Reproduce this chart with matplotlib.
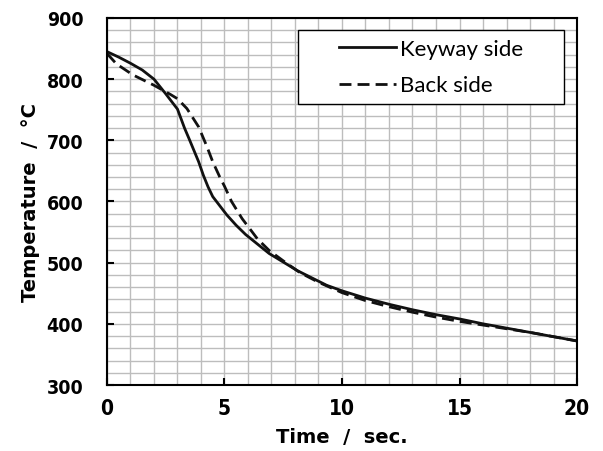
import numpy as np
import matplotlib.pyplot as plt
from matplotlib.ticker import MultipleLocator
from matplotlib.patches import Rectangle

# Keyway side (solid)
t_key = [0, 0.5, 1.0, 1.5, 2.0, 2.5, 3.0, 3.3, 3.5, 3.9, 4.1, 4.3, 4.5, 4.9, 5.1,
         5.5, 5.9, 6.9, 8.1, 9.35, 10, 11, 12, 13, 14, 15, 16, 17, 18, 19, 20]
T_key = [845, 836, 826, 815, 800, 776, 751, 720, 702, 665, 643, 624, 608, 588, 578,
         561, 546, 515, 487, 463, 454, 442, 432, 423, 415, 408, 400, 393, 386, 379, 372]

# Back side (dashed)
t_back = [0, 0.4, 1.1, 2.0, 2.7, 3.0, 3.4, 3.9, 4.25, 4.5, 4.8, 5.0, 5.3, 5.75, 6.4,
          6.9, 7.5, 8.2, 9, 10, 11, 12, 13, 14, 15, 16, 17, 18, 19, 20]
T_back = [842, 825, 807, 790, 775, 768, 752, 722, 690, 665, 640, 625, 600, 572, 539,
          520, 503, 484, 468, 451, 438, 428, 419, 411, 404, 398, 392, 386, 379, 372]

tick_font = {'family': 'DejaVu Sans', 'stretch': 'condensed', 'weight': 'bold'}

fig = plt.figure(figsize=(6.03, 4.52), dpi=100)
ax = fig.add_axes([0.1774, 0.146, 0.7795, 0.812])

ax.plot(t_key, T_key, color='#111111', lw=2.0, label='Keyway side')
ax.plot(t_back, T_back, color='#111111', lw=2.0, ls=(0, (4.3, 2.2)), label='Back side')

ax.set_xlim(0, 20)
ax.set_ylim(300, 900)
ax.xaxis.set_major_locator(MultipleLocator(5))
ax.xaxis.set_minor_locator(MultipleLocator(1))
ax.yaxis.set_major_locator(MultipleLocator(100))
ax.yaxis.set_minor_locator(MultipleLocator(20))
ax.grid(which='both', color='#bdbdbd', lw=1.0)
ax.set_axisbelow(True)
ax.tick_params(which='major', direction='in', length=5, width=1.5, color='black')
ax.tick_params(axis='x', pad=9)
ax.tick_params(axis='y', pad=17)
ax.tick_params(which='minor', length=0)
for lab in ax.get_xticklabels():
    lab.set_fontproperties(tick_font)
    lab.set_fontsize(15)
for lab in ax.get_yticklabels():
    lab.set_fontproperties(tick_font)
    lab.set_fontsize(14)
for s in ax.spines.values():
    s.set_linewidth(1.5)
    s.set_color('black')

ax.set_xlabel('Time  /  sec.', fontsize=14, fontweight='bold', labelpad=7)
ax.set_ylabel('Temperature  /  \u00b0C', fontsize=14, fontweight='bold', labelpad=5)

# legend frame, content centred inside it
box = Rectangle((0.406, 0.766), 0.566, 0.201, transform=ax.transAxes,
                facecolor='white', edgecolor='black', lw=1.0, zorder=4)
ax.add_patch(box)
leg = ax.legend(loc='center', bbox_to_anchor=(0.406 + 0.566 / 2, 0.766 + 0.201 / 2),
                prop={'family': 'Lato', 'size': 16}, handlelength=2.6,
                handletextpad=0.15, labelspacing=0.75, frameon=False)
leg.set_zorder(5)

fig.savefig('out.png', dpi=100)
